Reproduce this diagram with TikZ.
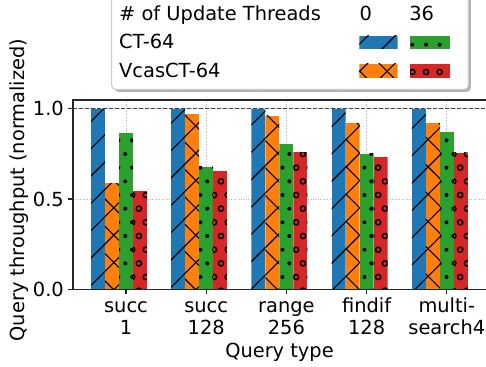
\documentclass[tikz,border=0pt]{standalone}
\usepackage{fontspec}
\setmainfont{DejaVu Sans}
\usepackage{tikz}
\usetikzlibrary{positioning}

\definecolor{tabblue}{HTML}{1F77B4}
\definecolor{taborange}{HTML}{FF7F0E}
\definecolor{tabgreen}{HTML}{2CA02C}
\definecolor{tabred}{HTML}{D62728}

% hatches, all on one lattice of the page
\newcommand{\hatchne}[2]{\foreach \k in {-16,...,12} \draw[hatchline] (0,17+\k*27.33) -- ++(520,520);}
\newcommand{\hatchx}[2]{\hatchne{#1}{#2}\foreach \k in {4,...,28} \draw[hatchline] (0,26+\k*27.33) -- ++(520,-520);}
\newcommand{\hatchdots}[2]{%
	\pgfmathtruncatemacro\ia{floor((#1-289.3)/13.67)-1}%
	\pgfmathtruncatemacro\ib{floor((#2-289.3)/13.67)+1}%
	\foreach \j in {-10,...,10}
	\foreach \i in {\ia,...,\ib}
	\fill ({289.3+(\i+0.5*abs(mod(\j,2)))*13.67},{212+\j*13.67}) circle[radius=2pt];}
\newcommand{\hatchrings}[2]{%
	\pgfmathtruncatemacro\ia{floor((#1-289.3)/13.67)-1}%
	\pgfmathtruncatemacro\ib{floor((#2-289.3)/13.67)+1}%
	\foreach \j in {-10,...,10}
	\foreach \i in {\ia,...,\ib}
	\draw[ringline] ({289.3+(\i+0.5*abs(mod(\j,2)))*13.67},{212+\j*13.67}) circle[radius=2.6pt];}
% one hatched box: colour, hatch, x0, y0, x1, y1
\newcommand{\qbar}[6]{%
	\begin{scope}
	\clip (#3,#4) rectangle (#5,#6);
	\fill[#1] (#3,#4) rectangle (#5,#6);
	\csname hatch#2\endcsname{#3}{#5}
	\end{scope}}

\begin{document}
\begin{tikzpicture}
	[x=1pt,y=1pt,font=\fontsize{19.4}{22.3}\selectfont,
	every node/.style={inner sep=0pt},
	spine/.style={black!85,line width=1.1pt},
	gridline/.style={black!30,line width=0.8pt,dash pattern=on 0.8pt off 1.6pt},
	refline/.style={black!75,line width=1.6pt,dash pattern=on 4pt off 2pt},
	hatchline/.style={black,line width=1.1pt},
	ringline/.style={black,line width=1.5pt},
	legendbox/.style={fill=white,draw=black!20,line width=1pt,rounded corners=4pt}]
	\useasboundingbox (0,0) rectangle (486,366);
	
	% grid
	\foreach \t in {126,206.2,286.4,366.6,446.8}
	\draw[gridline] (\t,76.7) -- (\t,266);
	\foreach \v in {0.5,1}
	\draw[gridline] (73,76.7+180.6*\v) -- (490,76.7+180.6*\v);
	
	% bars
	\foreach \t/\a/\b/\c/\d in
	{126/1.0/0.587/0.867/0.546, 206.2/1.0/0.971/0.679/0.655, 286.4/1.0/0.961/0.806/0.760,
	366.6/1.0/0.919/0.751/0.731, 446.8/1.0/0.919/0.869/0.756}
	{
	\qbar{tabblue}{ne}{\t-35}{76.7}{\t-21}{76.7+180.6*\a}
	\qbar{taborange}{x}{\t-21}{76.7}{\t-7}{76.7+180.6*\b}
	\qbar{tabgreen}{dots}{\t-7}{76.7}{\t+7}{76.7+180.6*\c}
	\qbar{tabred}{rings}{\t+7}{76.7}{\t+21}{76.7+180.6*\d}
	}
	
	\draw[refline] (73,257.3) -- (490,257.3);
	\draw[spine] (490,266) -- (73,266) -- (73,76.7) -- (490,76.7);
	
	% axes
	\foreach \v/\lab [count=\n] in {0/0.0,0.5/0.5,1/1.0}
	{
	\draw[spine] (68.2,76.7+180.6*\v) -- (73,76.7+180.6*\v);
	\node[anchor=east] (y\n) at (64,76.7+180.6*\v) {\lab};
	}
	\foreach \t/\la/\lb [count=\n] in
	{126/succ/1, 206.2/succ/128, 286.4/range/256, 366.6/findif/128, 446.8/multi-/search4}
	{
	\draw[spine] (\t,76.7) -- (\t,71.9);
	\node[anchor=base] (xa\n) at (\t,53.7) {\la};
	\node[anchor=base] (xb\n) at (\t,31.8) {\lb};
	}
	\node[anchor=base] (xlab) at (279.5,8.8) {Query type};
	\node[rotate=90] (ylab) at (19,176) {Query throughput (normalized)};
	
	% legend
	\fill[black!50,opacity=.6,rounded corners=4pt] (114.2,274.2) rectangle (470.8,380);
	\draw[legendbox] (111.7,276.7) rectangle (468.3,380);
	\node[anchor=base west] (title) at (119,345.7) {\# of Update Threads};
	\node[anchor=base] (t0) at (365.7,345.7) {0};
	\node[anchor=base] (t36) at (421.7,345.7) {36};
	\node[anchor=base west] (ct) at (119,317) {CT-64};
	\node[anchor=base west] (vcas) at (119,288.5) {VcasCT-64};
	\qbar{tabblue}{ne}{359.3}{317}{397.7}{330}
	\qbar{tabgreen}{dots}{410}{317}{450}{330}
	\qbar{taborange}{x}{359.3}{288.3}{397.7}{302}
	\qbar{tabred}{rings}{410}{288.3}{450}{302}
\end{tikzpicture}
\end{document}
